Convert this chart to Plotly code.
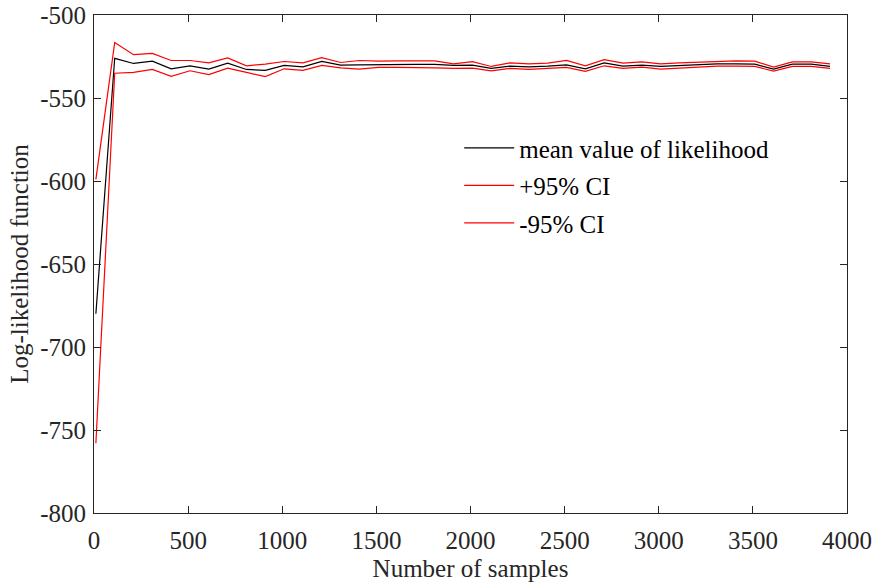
import plotly.graph_objects as go

samples = [10 + 100 * k for k in range(40)]

mean_ll = [-680, -526.1, -529.2, -527.8, -532.4, -530.6, -532.6, -529.0, -532.8, -533.4,
           -530.4, -531.2, -528.0, -530.2, -530.0, -529.8, -529.8, -529.8, -529.8, -530.4,
           -530.2, -532.2, -530.8, -531.2, -530.8, -530.0, -532.4, -528.8, -530.8, -530.2,
           -531.0, -530.4, -530.0, -529.4, -529.4, -529.6, -532.6, -529.6, -529.6, -531.0]

upper_ci = [-599, -516.6, -523.9, -523.1, -527.4, -527.4, -528.8, -525.9, -530.6, -529.6,
            -528.0, -528.8, -525.7, -528.6, -527.4, -527.8, -527.6, -527.4, -527.6, -529.4,
            -528.1, -531.0, -528.8, -529.4, -529.0, -527.4, -530.6, -526.9, -529.0, -528.2,
            -529.4, -528.8, -528.4, -527.6, -527.6, -527.8, -531.4, -528.2, -528.2, -529.4]

lower_ci = [-758, -535.1, -534.6, -532.8, -536.9, -533.6, -535.9, -532.0, -534.6, -537.1,
            -532.4, -533.4, -530.4, -531.8, -532.6, -531.5, -531.6, -531.6, -531.8, -532.2,
            -532.0, -533.6, -532.2, -532.8, -532.2, -531.6, -534.0, -530.6, -532.2, -531.4,
            -532.6, -532.0, -531.4, -530.8, -530.8, -531.0, -533.8, -531.0, -531.0, -532.2]

x_ticks = [0, 500, 1000, 1500, 2000, 2500, 3000, 3500, 4000]
y_ticks = [-800, -750, -700, -650, -600, -550, -500]

font_family = "Liberation Serif, Times New Roman, serif"
FS = 25

fig = go.Figure()
fig.add_trace(go.Scatter(x=samples, y=mean_ll, mode="lines", name="mean value of likelihood",
                         line=dict(color="black", width=1.2), legendgroup="a"))
fig.add_trace(go.Scatter(x=samples, y=upper_ci, mode="lines", name="+95% CI",
                         line=dict(color="red", width=1.2), legendgroup="b"))
fig.add_trace(go.Scatter(x=samples, y=lower_ci, mode="lines", name="-95% CI",
                         line=dict(color="red", width=1.2), legendgroup="c"))

axis_common = dict(
    showline=True, linecolor="#262626", linewidth=1, mirror="ticks",
    ticks="inside", ticklen=7, tickcolor="#262626", tickwidth=1,
    showgrid=False, zeroline=False, ticklabeloverflow="allow", automargin=False,
    tickfont=dict(family=font_family, size=FS, color="#262626"),
)

fig.update_layout(
    width=874, height=587,
    margin=dict(l=94, r=27, t=15, b=74),
    paper_bgcolor="white", plot_bgcolor="white",
    font=dict(family=font_family, size=FS, color="#262626"),
    xaxis=dict(range=[0, 4000], tickvals=x_ticks, ticktext=[str(v) for v in x_ticks],
               ticklabelstandoff=5,
               title=dict(text="Number of samples", font=dict(family=font_family, size=FS), standoff=6),
               **axis_common),
    yaxis=dict(range=[-800, -500], tickvals=y_ticks, ticktext=[str(v) for v in y_ticks],
               ticklabelstandoff=2,
               title=dict(text="Log-likelihood function", font=dict(family=font_family, size=FS), standoff=4),
               **axis_common),
    legend=dict(x=0.485, y=0.779, xanchor="left", yanchor="top",
                bgcolor="rgba(0,0,0,0)", borderwidth=0,
                font=dict(family=font_family, size=FS, color="black"),
                traceorder="grouped", tracegroupgap=2, itemwidth=50),
    showlegend=True,
)

fig.write_html("out.html")
